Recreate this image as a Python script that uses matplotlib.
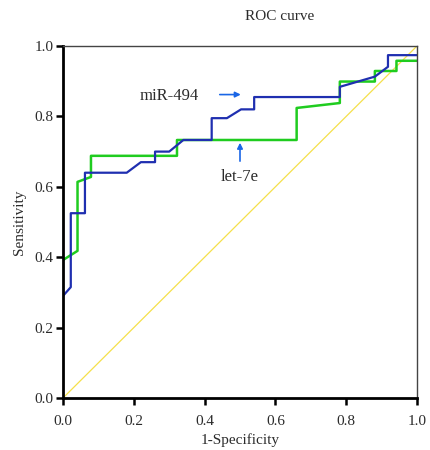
import matplotlib
matplotlib.use("Agg")
import matplotlib.pyplot as plt

# ROC curve points
mir494_fpr = [0.0, 0.022, 0.022, 0.062, 0.062, 0.18, 0.22, 0.26, 0.26, 0.30, 0.34,
              0.42, 0.42, 0.463, 0.503, 0.54, 0.54, 0.782, 0.782, 0.881, 0.918, 0.918, 1.0]
mir494_tpr = [0.29, 0.315, 0.525, 0.525, 0.64, 0.64, 0.67, 0.67, 0.70, 0.70, 0.733,
              0.733, 0.795, 0.795, 0.82, 0.82, 0.855, 0.855, 0.884, 0.913, 0.941, 0.974, 0.974]

let7e_fpr = [0.0, 0.041, 0.041, 0.079, 0.079, 0.322, 0.322, 0.66, 0.66, 0.782, 0.782,
             0.881, 0.881, 0.942, 0.942, 1.0]
let7e_tpr = [0.392, 0.418, 0.614, 0.628, 0.688, 0.688, 0.733, 0.733, 0.824, 0.838, 0.899,
             0.899, 0.929, 0.929, 0.958, 0.958]

ref_line = [0.0, 1.0]
ticks = [0.0, 0.2, 0.4, 0.6, 0.8, 1.0]

BLUE = "#1f2fb0"
GREEN = "#1fcc1f"
YELLOW = "#f5e04a"
ARROW = "#1a66e6"
TEXT = "#2b2b2b"

plt.rcParams["font.family"] = ["Liberation Serif", "DejaVu Serif"]

fig = plt.figure(figsize=(4.3, 4.5), dpi=100)
ax = fig.add_axes([63 / 430, 1 - 398 / 450, 354 / 430, 352 / 450])

ax.plot(ref_line, ref_line, color=YELLOW, lw=0.9)
ax.plot(let7e_fpr, let7e_tpr, color=GREEN, lw=1.8)
ax.plot(mir494_fpr, mir494_tpr, color=BLUE, lw=1.6)

ax.set_xlim(0, 1)
ax.set_ylim(0, 1)
ax.set_xticks(ticks)
ax.set_yticks(ticks)
ax.set_xticklabels([f"{t:.1f}" for t in ticks])
ax.set_yticklabels([f"{t:.1f}" for t in ticks])
ax.tick_params(direction="out", length=5, width=1.8, labelsize=11, pad=2,
               labelcolor=TEXT)
ax.tick_params(axis="x", pad=7)

for side in ["left", "bottom"]:
    ax.spines[side].set_linewidth(2)
    ax.spines[side].set_color("black")
for side in ["top", "right"]:
    ax.spines[side].set_linewidth(1)
    ax.spines[side].set_color("#444444")

ax.set_xlabel("1-Specificity", fontsize=11, labelpad=4, color=TEXT)
ax.set_ylabel("Sensitivity", fontsize=11, labelpad=6, color=TEXT)
fig.text(280 / 430, 1 - 16 / 450, "ROC curve", ha="center", va="center", fontsize=11,
         color=TEXT)

ax.text(0.30, 0.857, "miR-494", ha="center", va="center", fontsize=12, color=TEXT)
ax.annotate("", xy=(0.51, 0.862), xytext=(0.435, 0.862),
            arrowprops=dict(arrowstyle="-|>", color=ARROW, lw=1.2, mutation_scale=8))
ax.text(0.50, 0.628, "let-7e", ha="center", va="center", fontsize=12, color=TEXT)
ax.annotate("", xy=(0.50, 0.733), xytext=(0.50, 0.665),
            arrowprops=dict(arrowstyle="-|>", color=ARROW, lw=1.2, mutation_scale=8))

fig.savefig("out.png", dpi=100)
